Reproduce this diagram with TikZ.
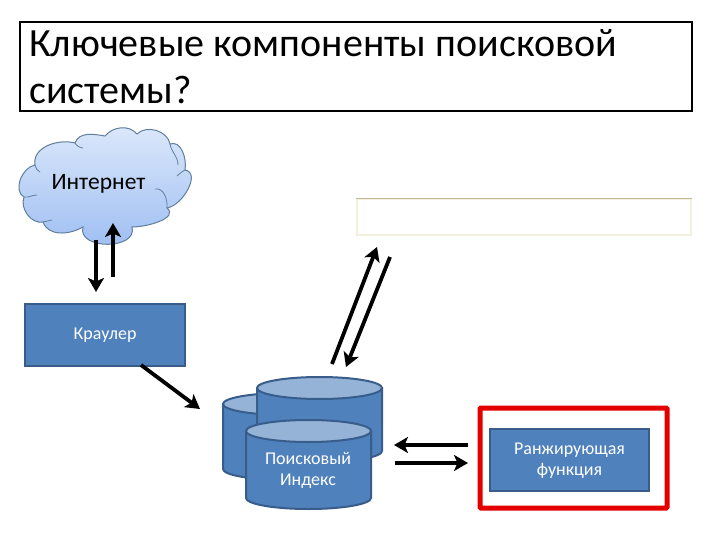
\documentclass[tikz,border=0pt]{standalone}
\usepackage{fontspec}
\setmainfont{Carlito}
\usetikzlibrary{arrows.meta}
\definecolor{boxblue}{HTML}{4F81BD}
\definecolor{boxedge}{HTML}{385D8A}
\definecolor{toplight}{HTML}{95B3D7}
\definecolor{cloudtop}{HTML}{DCE8FB}
\definecolor{cloudbot}{HTML}{9DBEF2}
\definecolor{cloudedge}{HTML}{5F7F9F}
\definecolor{searchedge}{HTML}{F3F0E0}
\definecolor{searchtop}{HTML}{C4B998}
\tikzset{
  flow/.style={line width=3.8pt,-{Stealth[length=14pt,width=16pt,inset=3.5pt]},black},
  bluebox/.style={draw=boxedge,line width=1.5pt,fill=boxblue,text=white,align=center,inner sep=0pt,font=\fontsize{18}{23}\selectfont},
  cylbody/.style={draw=boxedge,line width=2pt,fill=boxblue},
  cyltop/.style={draw=boxedge,line width=2pt,fill=toplight},
  crease/.style={draw=cloudedge,line width=.8pt},
}
\newcommand{\drawcyl}[5]{% left, right, topcentre y, bottom side y, ry
  \pgfmathsetmacro{\cx}{(#1+#2)/2}
  \pgfmathsetmacro{\rx}{(#2-#1)/2}
  \path[cylbody] (#1,#3) -- (#1,#4) arc[start angle=180,end angle=360,x radius=\rx,y radius=-#5] -- (#2,#3) -- cycle;
  \path[cyltop] (\cx,#3) ellipse[x radius=\rx,y radius=#5];
}
\begin{document}
\begin{tikzpicture}[x=1pt,y=-1pt]
\useasboundingbox (0,0) rectangle (720,540);
\fill[white] (0,0) rectangle (720,540);
% title
\node[draw=black,line width=2pt,minimum width=672pt,minimum height=89pt,inner sep=0pt] (titlebox) at (356,66.5) {};
\node[anchor=west,inner sep=0pt,align=left,font=\fontsize{40}{47}\selectfont] (title) at (29,67) {Ключевые компоненты поисковой\\системы?};
% cloud
\path[draw=cloudedge,line width=1pt,top color=cloudtop,bottom color=cloudbot,shading angle=0]
  (35,165) to[out=100,in=165] (75,143)
  to[out=70,in=170] (105,136)
  to[out=50,in=130] (137,134)
  to[out=45,in=100] (170,144)
  to[out=20,in=80] (185,170)
  to[out=-10,in=10] (167,208)
  to[out=-40,in=0] (132,227)
  to[out=-75,in=-105,looseness=1.25] (83,227)
  to[out=-150,in=-70] (43,222)
  to[out=-170,in=-110] (24,197)
  to[out=150,in=-170] cycle;
\path[crease] (35,165) to[out=-70,in=160] (40,172);
\path[crease] (75,143) to[out=-60,in=170] (83,148);
\path[crease] (170,144) to[out=-80,in=90] (178,165);
\path[crease] (185,170) to[out=-135,in=60] (177,176);
\path[crease] (155,189) to[out=10,in=85] (167,208);
\path[crease] (43,222) to[out=20,in=-160] (52,220);
\path[crease] (24,197) to[out=-10,in=180] (37,195);
\node[inner sep=0pt,font=\fontsize{23.5}{28}\selectfont] (inet) at (98.5,184) {Интернет};
% coordinates of free connector ends
\coordinate (a1s) at (96,240); \coordinate (a1e) at (96,292);
\coordinate (a2s) at (113,277); \coordinate (a2e) at (113,223);
\coordinate (a3s) at (141,365); \coordinate (a3e) at (200,409);
\coordinate (a4s) at (332,364); \coordinate (a4e) at (377,247);
\coordinate (a5s) at (390,257); \coordinate (a5e) at (346,367);
\coordinate (a6s) at (468,445); \coordinate (a6e) at (394,445);
\coordinate (a7s) at (395,463); \coordinate (a7e) at (468,463);
% crawler
\node[bluebox,minimum width=160pt,minimum height=62pt] (crawler) at (105,335) {\raisebox{-1.5pt}{Краулер}};
% search box
\node[draw=searchedge,line width=1.2pt,fill=white,minimum width=334pt,minimum height=36pt,inner sep=0pt] (search) at (524,217) {};
\draw[color=searchtop,line width=1.5pt] (search.north west) -- (search.north east);
% cylinders
\drawcyl{223}{349}{404}{469}{11}
\drawcyl{257}{382}{388}{451}{11}
\drawcyl{246}{371}{431}{498}{11}
\node[inner sep=0pt,align=center,text=white,font=\fontsize{18}{21}\selectfont] (index) at (308,470) {Поисковый\\Индекс};
% ranking
\node[draw=red!90!black,line width=5pt,minimum width=187pt,minimum height=100pt,rounded corners=1pt,inner sep=0pt] (redframe) at (573.5,458) {};
\node[bluebox,minimum width=159pt,minimum height=62pt] (rank) at (569.5,460) {\raisebox{-1.5pt}{\begin{tabular}{@{}c@{}}Ранжирующая\\[-2pt]функция\end{tabular}}};
% arrows
\draw[flow] (a1s) -- (a1e);
\draw[flow] (a2s) -- (a2e);
\draw[flow] (a3s) -- (a3e);
\draw[flow] (a4s) -- (a4e);
\draw[flow] (a5s) -- (a5e);
\draw[flow] (a6s) -- (a6e);
\draw[flow] (a7s) -- (a7e);
\end{tikzpicture}
\end{document}
